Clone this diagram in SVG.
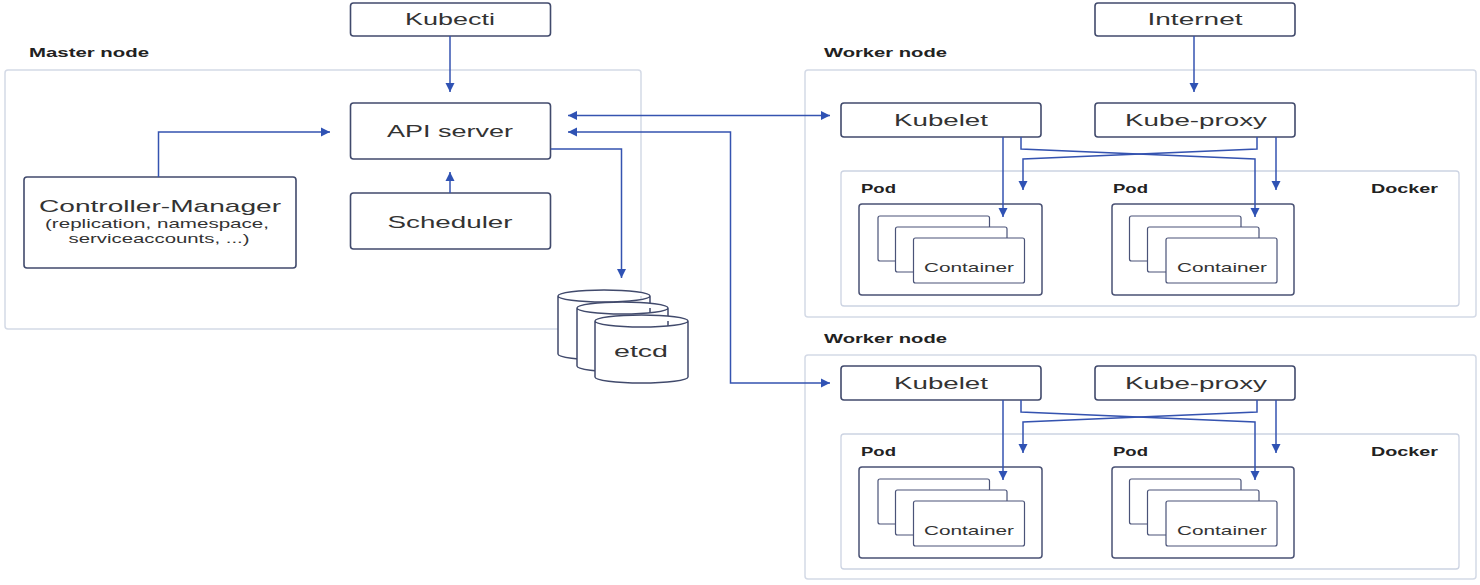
<svg xmlns="http://www.w3.org/2000/svg" width="1480" height="585" viewBox="0 0 1480 585">
<defs>
<marker id="ah" viewBox="0 0 10 10" refX="10" refY="5" markerWidth="9" markerHeight="10" markerUnits="userSpaceOnUse" orient="auto-start-reverse">
<path d="M0,0 L10,5 L0,10 z" fill="#2f52b4"/>
</marker>
<style>
.outer{fill:none;stroke:#d4dae6;stroke-width:1.5}
.docker{fill:none;stroke:#ccd3e2;stroke-width:1.3}
.box{fill:#fff;stroke:#414a6c;stroke-width:1.6}
.pod{fill:#fff;stroke:#4a5274;stroke-width:1.5}
.cont{fill:#fff;stroke:#4a5378;stroke-width:1.2}
.cyl{fill:#fff;stroke:#414a6c;stroke-width:1.5}
.conn{fill:none;stroke:#3553b0;stroke-width:1.5;marker-end:url(#ah)}
.both{marker-start:url(#ah)}
.t{font-family:"Liberation Sans",Arial,sans-serif;fill:#333;font-size:17px;text-anchor:middle}
.s{font-family:"Liberation Sans",Arial,sans-serif;fill:#333;font-size:13px;text-anchor:middle}
.b{font-family:"Liberation Sans",Arial,sans-serif;fill:#222;font-size:12px;font-weight:bold}
</style>
</defs>
<rect width="1480" height="585" fill="#fff"/>

<g id="master-node">
<rect class="outer" x="5" y="70" width="636" height="259" rx="3"/>
<text class="b" x="29" y="57" textLength="120" lengthAdjust="spacingAndGlyphs">Master node</text>
</g>
<g id="worker-node-1">
<rect class="outer" x="805" y="70" width="671" height="247" rx="3"/>
<text class="b" x="824" y="57" textLength="123" lengthAdjust="spacingAndGlyphs">Worker node</text>
</g>
<g id="worker-node-2">
<rect class="outer" x="805" y="355" width="671" height="224" rx="3"/>
<text class="b" x="824" y="343" textLength="123" lengthAdjust="spacingAndGlyphs">Worker node</text>
</g>

<g id="kubectl">
<rect class="box" x="350.5" y="3" width="200" height="33" rx="3"/>
<text class="t" x="450" y="25" textLength="90" lengthAdjust="spacingAndGlyphs">Kubecti</text>
</g>
<g id="internet">
<rect class="box" x="1095" y="3" width="200" height="33" rx="3"/>
<text class="t" x="1195" y="25" textLength="95" lengthAdjust="spacingAndGlyphs">Internet</text>
</g>
<g id="api-server">
<rect class="box" x="350.5" y="103" width="200" height="56" rx="3"/>
<text class="t" x="450" y="137" textLength="126" lengthAdjust="spacingAndGlyphs">API server</text>
</g>
<g id="scheduler">
<rect class="box" x="350.5" y="193" width="200" height="56" rx="3"/>
<text class="t" x="450" y="228" textLength="125" lengthAdjust="spacingAndGlyphs">Scheduler</text>
</g>
<g id="controller-manager">
<rect class="box" x="24" y="177" width="272" height="91" rx="3"/>
<text class="t" x="160" y="212" textLength="242" lengthAdjust="spacingAndGlyphs">Controller-Manager</text>
<text class="s" x="157" y="228" textLength="224" lengthAdjust="spacingAndGlyphs">(replication, namespace,</text>
<text class="s" x="159" y="243" textLength="181" lengthAdjust="spacingAndGlyphs">serviceaccounts, ...)</text>
</g>
<g id="etcd">
<path class="cyl" d="M558,296 A46,6 0 0 1 650,296 V354 A46,6 0 0 1 558,354 Z M558,296 A46,6 0 0 0 650,296"/>
<path class="cyl" d="M577,308 A45.5,6 0 0 1 668,308 V366 A45.5,6 0 0 1 577,366 Z M577,308 A45.5,6 0 0 0 668,308"/>
<path class="cyl" d="M595,321 A46.5,6 0 0 1 688,321 V377 A46.5,6 0 0 1 595,377 Z M595,321 A46.5,6 0 0 0 688,321"/>
<text class="t" x="641" y="357" textLength="54" lengthAdjust="spacingAndGlyphs">etcd</text>
</g>

<g id="w1-kubelet">
<rect class="box" x="841" y="103" width="200" height="34" rx="3"/>
<text class="t" x="941" y="126" textLength="94" lengthAdjust="spacingAndGlyphs">Kubelet</text>
</g>
<g id="w1-kube-proxy">
<rect class="box" x="1095" y="103" width="200" height="34" rx="3"/>
<text class="t" x="1196" y="126" textLength="142" lengthAdjust="spacingAndGlyphs">Kube-proxy</text>
</g>
<g id="w1-docker">
<rect class="docker" x="841" y="171" width="618" height="135" rx="3"/>
<text class="b" x="1371" y="193" textLength="67" lengthAdjust="spacingAndGlyphs">Docker</text>
</g>
<g id="w1-pod-1">
<text class="b" x="861" y="193" textLength="35" lengthAdjust="spacingAndGlyphs">Pod</text>
<rect class="pod" x="859" y="204" width="183" height="91" rx="3"/>
<rect class="cont" x="878" y="216" width="111.5" height="45" rx="2"/>
<rect class="cont" x="895.5" y="227" width="111.5" height="45" rx="2"/>
<rect class="cont" x="913.5" y="238" width="111" height="45" rx="2"/>
<text class="s" x="969" y="272" textLength="90" lengthAdjust="spacingAndGlyphs">Container</text>
</g>
<g id="w1-pod-2">
<text class="b" x="1113" y="193" textLength="35" lengthAdjust="spacingAndGlyphs">Pod</text>
<rect class="pod" x="1112" y="204" width="182" height="91" rx="3"/>
<rect class="cont" x="1129.5" y="216" width="111.5" height="45" rx="2"/>
<rect class="cont" x="1147.5" y="227" width="111.5" height="45" rx="2"/>
<rect class="cont" x="1166" y="238" width="111" height="45" rx="2"/>
<text class="s" x="1222" y="272" textLength="90" lengthAdjust="spacingAndGlyphs">Container</text>
</g>

<g id="w2-kubelet">
<rect class="box" x="841" y="366" width="200" height="34" rx="3"/>
<text class="t" x="941" y="389" textLength="94" lengthAdjust="spacingAndGlyphs">Kubelet</text>
</g>
<g id="w2-kube-proxy">
<rect class="box" x="1095" y="366" width="200" height="34" rx="3"/>
<text class="t" x="1196" y="389" textLength="142" lengthAdjust="spacingAndGlyphs">Kube-proxy</text>
</g>
<g id="w2-docker">
<rect class="docker" x="841" y="434" width="618" height="135" rx="3"/>
<text class="b" x="1371" y="456" textLength="67" lengthAdjust="spacingAndGlyphs">Docker</text>
</g>
<g id="w2-pod-1">
<text class="b" x="861" y="456" textLength="35" lengthAdjust="spacingAndGlyphs">Pod</text>
<rect class="pod" x="859" y="467" width="183" height="91" rx="3"/>
<rect class="cont" x="878" y="479" width="111.5" height="45" rx="2"/>
<rect class="cont" x="895.5" y="490" width="111.5" height="45" rx="2"/>
<rect class="cont" x="913.5" y="501" width="111" height="45" rx="2"/>
<text class="s" x="969" y="535" textLength="90" lengthAdjust="spacingAndGlyphs">Container</text>
</g>
<g id="w2-pod-2">
<text class="b" x="1113" y="456" textLength="35" lengthAdjust="spacingAndGlyphs">Pod</text>
<rect class="pod" x="1112" y="467" width="182" height="91" rx="3"/>
<rect class="cont" x="1129.5" y="479" width="111.5" height="45" rx="2"/>
<rect class="cont" x="1147.5" y="490" width="111.5" height="45" rx="2"/>
<rect class="cont" x="1166" y="501" width="111" height="45" rx="2"/>
<text class="s" x="1222" y="535" textLength="90" lengthAdjust="spacingAndGlyphs">Container</text>
</g>

<g id="connectors">
<path class="conn" d="M450,36 V92"/>
<path class="conn" d="M450,193 V172"/>
<path class="conn" d="M158.5,177 V132 H330"/>
<path class="conn" d="M551,149 H621.5 V278"/>
<path class="conn both" d="M568,115.5 H830"/>
<path class="conn both" d="M568,132 H730.5 V383 H830"/>
<path class="conn" d="M1194,36 V92"/>
<path class="conn" d="M1003,137 V217"/>
<path class="conn" d="M1021,137 V149 L1255,159 V217"/>
<path class="conn" d="M1257,137 V149 L1023,159 V190"/>
<path class="conn" d="M1276,137 V190"/>
<path class="conn" d="M1003,400 V480"/>
<path class="conn" d="M1021,400 V412 L1255,422 V480"/>
<path class="conn" d="M1257,400 V412 L1023,422 V453"/>
<path class="conn" d="M1276,400 V453"/>
</g>
</svg>
